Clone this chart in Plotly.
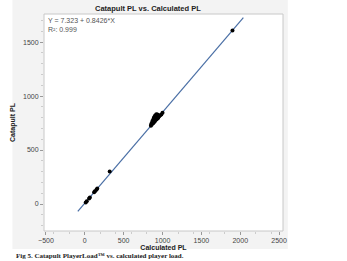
import plotly.graph_objects as go

# ---- data ----
calculated_pl = [12, 25, 55, 65, 120, 130, 150, 160, 320,
                 850, 855, 860, 865, 870, 875, 880, 885, 890, 895, 900, 905, 910,
                 915, 920, 925, 930, 935, 940, 945, 950, 960, 970, 985, 1000,
                 880, 900, 920, 940, 870, 885, 895, 910, 925, 935, 890, 905, 920,
                 1900]
catapult_pl = [15, 25, 52, 60, 108, 118, 133, 143, 300,
               725, 740, 735, 752, 745, 760, 748, 770, 762, 775, 765, 785, 778,
               790, 783, 795, 790, 800, 795, 805, 808, 815, 822, 830, 845,
               775, 792, 808, 818, 770, 790, 805, 815, 825, 828, 800, 820, 832,
               1608]
fit_intercept = 7.323
fit_slope = 0.8426
fit_x_range = [-90, 2040]
x_ticks = [-500, 0, 500, 1000, 1500, 2000, 2500]
y_ticks = [0, 500, 1000, 1500]

fit_y = [fit_intercept + fit_slope * v for v in fit_x_range]

fig = go.Figure()
fig.add_trace(go.Scatter(x=fit_x_range, y=fit_y, mode="lines",
                         line=dict(color="#4a6fa5", width=1.2), hoverinfo="skip"))
fig.add_trace(go.Scatter(x=calculated_pl, y=catapult_pl, mode="markers",
                         marker=dict(color="black", size=4)))

W, H = 347, 261
L, R, T, B = 33, 64, 14, 30
pw, ph = W - L - R, H - T - B

def px_to_paper_x(px):
    return (px - L) / pw

def px_to_paper_y(py):
    return (H - B - py) / ph

# grey panel behind chart
fig.add_shape(type="rect", xref="paper", yref="paper", layer="below",
              x0=px_to_paper_x(0), x1=px_to_paper_x(288),
              y0=px_to_paper_y(249), y1=px_to_paper_y(0),
              fillcolor="#f3f3f3", line=dict(width=0))
fig.add_shape(type="rect", xref="paper", yref="paper", layer="below",
              x0=0, x1=1, y0=0, y1=1,
              fillcolor="white", line=dict(color="#c8c8c8", width=1))

axis_common = dict(showgrid=False, zeroline=False, showline=False,
                   ticks="outside", ticklen=3, tickcolor="#999",
                   tickfont=dict(family="Liberation Sans", size=7, color="#444"),
                   minor=dict(ticks="outside", ticklen=2, tickcolor="#ccc"))

fig.update_xaxes(range=[-525, 2550], tickvals=x_ticks, **axis_common,
                 title=dict(text="<b>Calculated PL</b>", standoff=0,
                            font=dict(family="Liberation Sans", size=7, color="#222")))
fig.update_yaxes(range=[-250, 1760], tickvals=y_ticks, **axis_common,
                 title=dict(text="<b>Catapult PL</b>", standoff=6,
                            font=dict(family="Liberation Sans", size=7, color="#222")))

fig.add_annotation(xref="paper", yref="paper", x=0.01, y=0.995, xanchor="left", yanchor="top",
                   text="Y = 7.323 + 0.8426*X<br>R²: 0.999", showarrow=False, align="left",
                   font=dict(family="Liberation Sans", size=7, color="#555"))
fig.add_annotation(xref="paper", yref="paper", x=px_to_paper_x(142), y=px_to_paper_y(9),
                   xanchor="center", yanchor="middle",
                   text="<b>Catapult PL vs. Calculated PL</b>", showarrow=False,
                   font=dict(family="Liberation Sans", size=7.5, color="#222"))
fig.add_annotation(xref="paper", yref="paper", x=px_to_paper_x(2), y=px_to_paper_y(256),
                   xanchor="left", yanchor="middle",
                   text="<b>Fig 5. Catapult PlayerLoad™ vs. calculated player load.</b>", showarrow=False,
                   font=dict(family="Liberation Serif", size=7, color="#222"))

fig.update_layout(width=W, height=H, margin=dict(l=L, r=R, t=T, b=B),
                  paper_bgcolor="white", plot_bgcolor="rgba(0,0,0,0)",
                  showlegend=False)

fig.write_html("out.html")
